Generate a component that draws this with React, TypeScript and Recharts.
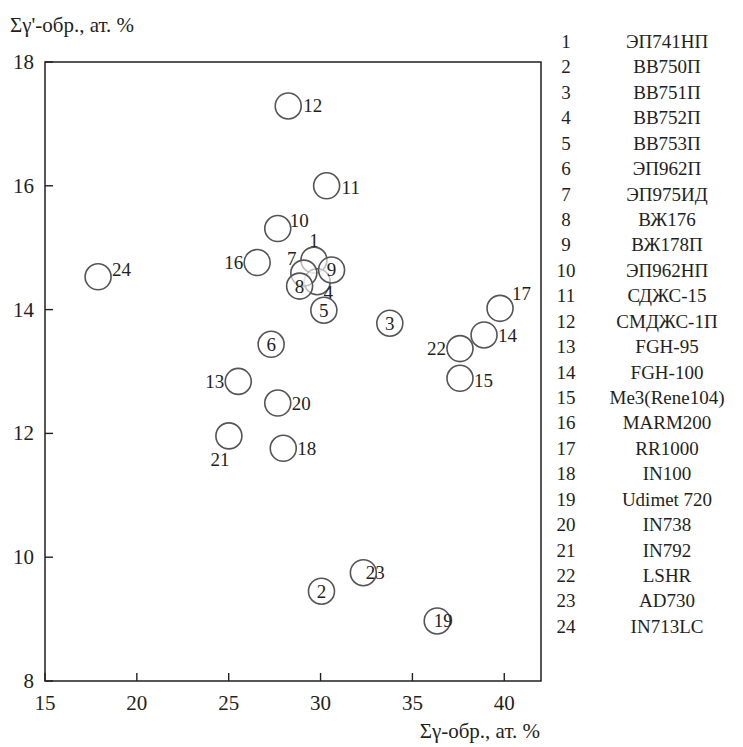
import { ScatterChart, Scatter, XAxis, YAxis, ReferenceArea } from 'recharts';

const alloyIds = [1, 2, 3, 4, 5, 6, 7, 8, 9, 10, 11, 12, 13, 14, 15, 16, 17, 18, 19, 20, 21, 22, 23, 24];
const alloyNames = [
  'ЭП741НП', 'ВВ750П', 'ВВ751П', 'ВВ752П', 'ВВ753П', 'ЭП962П', 'ЭП975ИД', 'ВЖ176',
  'ВЖ178П', 'ЭП962НП', 'СДЖС-15', 'СМДЖС-1П', 'FGH-95', 'FGH-100', 'Me3(Rene104)', 'MARM200',
  'RR1000', 'IN100', 'Udimet 720', 'IN738', 'IN792', 'LSHR', 'AD730', 'IN713LC',
];
// Σγ-обр., ат. %
const gammaX = [
  29.64, 30.05, 33.77, 29.82, 30.18, 27.31, 29.09, 28.86, 30.6, 27.67, 30.33, 28.24,
  25.52, 38.9, 37.59, 26.55, 39.77, 27.97, 36.35, 27.67, 25.01, 37.59, 32.33, 17.89,
];
// Σγ'-обр., ат. %
const gammaPrimeY = [
  14.8, 9.45, 13.78, 14.45, 13.99, 13.44, 14.59, 14.38, 14.64, 15.31, 16.0, 17.29,
  12.84, 13.59, 12.89, 14.76, 14.02, 11.76, 8.97, 12.49, 11.96, 13.37, 9.75, 14.53,
];
const xTicks = [15, 20, 25, 30, 35, 40];
const yTicks = [8, 10, 12, 14, 16, 18];

// label placement next to each circle: [dx, dy, anchor]
const labelPos: Record<number, [number, number, string]> = {
  1: [0, -20, 'middle'], 2: [0, 0, 'middle'], 3: [0, 0, 'middle'], 4: [11, 11, 'middle'],
  5: [0, 0, 'middle'], 6: [0, 0, 'middle'], 7: [-12, -15, 'middle'], 8: [0, 0, 'middle'],
  9: [0, 0, 'middle'], 10: [12, -8, 'start'], 11: [15, 2, 'start'], 12: [15, 0, 'start'],
  13: [-14, 0, 'end'], 14: [14, 1, 'start'], 15: [14, 2, 'start'], 16: [-14, 0, 'end'],
  17: [12, -15, 'start'], 18: [14, 0, 'start'], 19: [6, 0, 'middle'], 20: [14, 0, 'start'],
  21: [-9, 24, 'middle'], 22: [-14, 0, 'end'], 23: [12, 0, 'middle'], 24: [14, -7, 'start'],
};

const data = alloyIds.map((id, i) => ({ id, x: gammaX[i], y: gammaPrimeY[i] }));

const FONT = '"Liberation Serif", "Times New Roman", serif';
const INK = '#231f20';

const AlloyMark = (props: any) => {
  const { cx, cy, payload } = props;
  const [dx, dy, anchor] = labelPos[payload.id];
  return (
    <g>
      <circle cx={cx} cy={cy} r={13} fill="#fff" fillOpacity={0.6} stroke="#555" strokeWidth={1.6} />
      <text
        x={cx + dx}
        y={cy + dy}
        textAnchor={anchor as any}
        dominantBaseline="central"
        fontSize={19}
        fontFamily={FONT}
        fill={INK}
      >
        {payload.id}
      </text>
    </g>
  );
};

const XTick = (props: any) => {
  const { x, y, payload } = props;
  return (
    <g>
      <line x1={x} y1={y} x2={x} y2={y - 8} stroke={INK} strokeWidth={1.4} />
      <text x={x} y={y + 22} textAnchor="middle" dominantBaseline="central" fontSize={21} fontFamily={FONT} fill={INK}>
        {payload.value}
      </text>
    </g>
  );
};

const YTick = (props: any) => {
  const { x, y, payload } = props;
  return (
    <g>
      <line x1={x} y1={y} x2={x + 8} y2={y} stroke={INK} strokeWidth={1.4} />
      <text x={x - 11} y={y} textAnchor="end" dominantBaseline="central" fontSize={21} fontFamily={FONT} fill={INK}>
        {payload.value}
      </text>
    </g>
  );
};

export default function App() {
  return (
    <div style={{ position: 'absolute', left: 0, top: 0, width: 743, height: 747, background: '#fff', fontFamily: FONT, color: INK }}>
      <ScatterChart width={743} height={747} margin={{ top: 62, right: 202, bottom: 0, left: 0 }}>
        <XAxis
          type="number"
          dataKey="x"
          domain={[15, 42]}
          ticks={xTicks}
          height={66}
          axisLine={false}
          tickLine={false}
          tickSize={0}
          tickMargin={0}
          tick={<XTick />}
          allowDataOverflow
        />
        <YAxis
          type="number"
          dataKey="y"
          domain={[8, 18]}
          ticks={yTicks}
          width={45}
          axisLine={false}
          tickLine={false}
          tickSize={0}
          tickMargin={0}
          tick={<YTick />}
          allowDataOverflow
        />
        <ReferenceArea x1={15} x2={42} y1={8} y2={18} fill="none" stroke={INK} strokeWidth={1.5} />
        <Scatter data={data} shape={<AlloyMark />} isAnimationActive={false} />
      </ScatterChart>
      <div style={{ position: 'absolute', left: 10, top: 12, fontSize: 21, lineHeight: '26px', whiteSpace: 'nowrap' }}>
        Σγ'-обр., ат. %
      </div>
      <div style={{ position: 'absolute', right: 743 - 540, top: 718, fontSize: 21, lineHeight: '26px', whiteSpace: 'nowrap' }}>
        Σγ-обр., ат. %
      </div>
      {alloyIds.map((id, i) => (
        <div key={id} style={{ position: 'absolute', top: 42 + i * 25.43 - 12, height: 24, lineHeight: '24px', fontSize: 19, whiteSpace: 'nowrap' }}>
          <span style={{ position: 'absolute', left: 566, transform: 'translateX(-50%)' }}>{id}</span>
          <span style={{ position: 'absolute', left: 667, transform: 'translateX(-50%)' }}>{alloyNames[i]}</span>
        </div>
      ))}
    </div>
  );
}
